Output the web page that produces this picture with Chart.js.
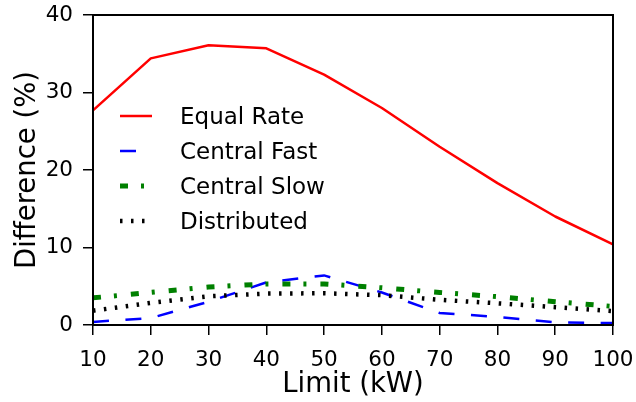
<!DOCTYPE html>
<html>
<head>
<meta charset="utf-8">
<script src="https://cdn.jsdelivr.net/npm/chart.js@4/dist/chart.umd.min.js"></script>
<style>
  html, body { margin: 0; padding: 0; background: #fff; }
  canvas { display: block; }
</style>
</head>
<body>
<canvas id="diffChart" width="636" height="402"></canvas>
<script>
// Difference vs. power limit, one series per charging scheme
const limits = [10, 20, 30, 40, 50, 60, 70, 80, 90, 100];
const equalRate = [27.7, 34.4, 36.1, 35.7, 32.3, 28.0, 23.0, 18.3, 14.0, 10.4];
const centralFast = [0.4, 0.9, 3.0, 5.5, 6.4, 4.2, 1.55, 1.05, 0.35, 0.25];
const centralSlow = [3.5, 4.2, 4.9, 5.3, 5.3, 4.8, 4.2, 3.65, 3.0, 2.4];
const distributed = [1.85, 2.85, 3.7, 4.05, 4.1, 3.85, 3.25, 2.8, 2.3, 1.8];
const seriesNames = ['Equal Rate', 'Central Fast', 'Central Slow', 'Distributed'];
const yTicks = [0, 10, 20, 30, 40];

const FONT = 'DejaVu Sans';

function toPoints(values) {
    return limits.map((x, i) => ({ x: x, y: values[i] }));
}

// frame around the plot and the legend inside it
const frameAndLegend = {
    id: 'frameAndLegend',
    afterDraw(chart) {
        const { ctx, chartArea: a } = chart;
        ctx.save();
        ctx.strokeStyle = '#000';
        ctx.lineWidth = 2;
        ctx.strokeRect(a.left, a.top, a.right - a.left, a.bottom - a.top);

        ctx.font = `23px "${FONT}"`;
        ctx.textBaseline = 'alphabetic';
        ctx.textAlign = 'left';
        chart.data.datasets.forEach((ds, i) => {
            const base = a.top + 109 + i * 35;
            const ly = base - 8;
            ctx.beginPath();
            ctx.setLineDash(ds.borderDash || []);
            ctx.lineDashOffset = 0;
            ctx.lineCap = 'butt';
            ctx.strokeStyle = ds.borderColor;
            ctx.lineWidth = ds.borderWidth;
            ctx.moveTo(a.left + 27, ly);
            ctx.lineTo(a.left + 59, ly);
            ctx.stroke();
            ctx.setLineDash([]);
            ctx.fillStyle = '#000';
            ctx.fillText(ds.label, a.left + 87, base);
        });
        ctx.restore();
    }
};

new Chart(document.getElementById('diffChart'), {
    type: 'line',
    data: {
        datasets: [
            { label: seriesNames[0], data: toPoints(equalRate), borderColor: '#ff0000', borderWidth: 2.5, borderJoinStyle: 'round', order: 4 },
            { label: seriesNames[1], data: toPoints(centralFast), borderColor: '#0000ff', borderWidth: 2.5, borderDash: [16, 16.5], order: 3 },
            { label: seriesNames[2], data: toPoints(centralSlow), borderColor: '#008000', borderWidth: 5, borderDash: [8, 13, 3, 14], order: 2 },
            { label: seriesNames[3], data: toPoints(distributed), borderColor: '#000000', borderWidth: 4.5, borderDash: [2.5, 8.5], order: 1 }
        ]
    },
    options: {
        responsive: false,
        animation: false,
        devicePixelRatio: 1,
        layout: { padding: { top: 15, right: 23, left: 0, bottom: 0 } },
        elements: { point: { radius: 0 }, line: { tension: 0, fill: false } },
        plugins: { legend: { display: false }, tooltip: { enabled: false } },
        scales: {
            x: {
                type: 'linear',
                min: limits[0],
                max: limits[limits.length - 1],
                afterFit: (s) => { s.height = 77; s.paddingLeft = 0; s.paddingRight = 0; },
                border: { display: false },
                grid: { drawOnChartArea: false, drawTicks: true, tickLength: 10, color: '#000', lineWidth: 1.5 },
                ticks: { stepSize: 10, color: '#000', padding: 12.5, maxRotation: 0, font: { family: FONT, size: 21.5 } },
                title: { display: true, text: 'Limit (kW)', color: '#000', padding: { top: 0, bottom: 0.5 }, font: { family: FONT, size: 27.5 } }
            },
            y: {
                min: yTicks[0],
                max: yTicks[yTicks.length - 1],
                afterFit: (s) => { s.width = 93; s.paddingTop = 0; s.paddingBottom = 0; },
                afterBuildTicks: (s) => { s.ticks = yTicks.map(v => ({ value: v })); },
                border: { display: false },
                grid: { drawOnChartArea: false, drawTicks: true, tickLength: 10, color: '#000', lineWidth: 1.5 },
                ticks: { color: '#000', padding: 10, font: { family: FONT, size: 21.5 } },
                title: { display: true, text: 'Difference (%)', color: '#000', padding: { top: 11, bottom: 0 }, font: { family: FONT, size: 27.5 } }
            }
        }
    },
    plugins: [frameAndLegend]
});
</script>
</body>
</html>
